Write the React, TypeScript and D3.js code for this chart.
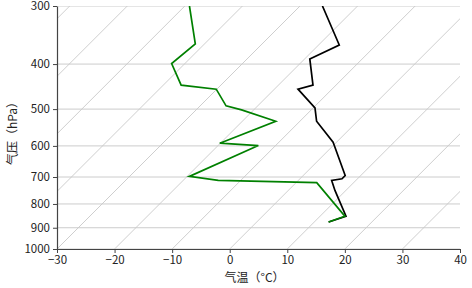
import React, { useEffect, useRef } from 'react';
import * as d3 from 'd3';

// sounding (hPa, °C)
const tempPressure = [875, 850, 748, 712, 706, 695, 599, 589, 531, 497, 453, 444, 390, 364, 300];
const temperature = [12.5, 14.5, 8.1, 5.8, 7.3, 7.3, 0.2, -0.6, -7.1, -9.7, -15.9, -14.0, -19.1, -16.4, -26.1];
const dewPressure = [875, 850, 720, 712, 698, 599, 592, 531, 502, 492, 453, 444, 399, 362, 300];
const dewpoint = [12.5, 14.3, 3.6, -13.9, -19.6, -13.0, -20.1, -14.2, -22.1, -25.5, -30.1, -36.9, -42.3, -41.6, -49.2];

const pressureTicks = [1000, 900, 800, 700, 600, 500, 400, 300];
const tempTicks = [-30, -20, -10, 0, 10, 20, 30, 40];
const isotherms = d3.range(-120, 50, 10);

const FONT = '"Noto Sans CJK SC", "Noto Sans", sans-serif';

export default function App() {
  const svgRef = useRef<SVGSVGElement>(null);

  useEffect(() => {
    const width = 472;
    const height = 288;
    const margin = { top: 6, right: 12, bottom: 39, left: 57 };
    const plotW = width - margin.left - margin.right;
    const plotH = height - margin.top - margin.bottom;

    const svg = d3.select(svgRef.current);
    svg.selectAll('*').remove();
    svg.attr('width', width).attr('height', height);

    const x = d3.scaleLinear().domain([-30, 40]).range([0, plotW]);
    const y = d3.scaleLog().domain([1000, 300]).range([plotH, 0]);
    // 45 degree skew: one pixel right for every pixel up
    const skewX = (t: number, p: number) => x(t) + (plotH - y(p));

    svg.append('defs').append('clipPath').attr('id', 'plot-clip')
      .append('rect').attr('width', plotW).attr('height', plotH);

    const g = svg.append('g').attr('transform', `translate(${margin.left},${margin.top})`);
    const plot = g.append('g').attr('clip-path', 'url(#plot-clip)');

    // isobars
    plot.selectAll('line.isobar')
      .data(pressureTicks)
      .enter()
      .append('line')
      .attr('x1', 0).attr('x2', plotW)
      .attr('y1', d => y(d)).attr('y2', d => y(d))
      .attr('stroke', '#cccccc')
      .attr('stroke-width', 1);

    // isotherms
    plot.selectAll('line.isotherm')
      .data(isotherms)
      .enter()
      .append('line')
      .attr('x1', d => x(d)).attr('y1', plotH)
      .attr('x2', d => x(d) + plotH).attr('y2', 0)
      .attr('stroke', '#c8c8c8')
      .attr('stroke-width', 0.9);

    const tLine = d3.line<number>()
      .x((d, i) => skewX(d, tempPressure[i]))
      .y((d, i) => y(tempPressure[i]));
    const dLine = d3.line<number>()
      .x((d, i) => skewX(d, dewPressure[i]))
      .y((d, i) => y(dewPressure[i]));

    plot.append('path')
      .attr('d', tLine(temperature))
      .attr('fill', 'none')
      .attr('stroke', '#000')
      .attr('stroke-width', 1.7);

    plot.append('path')
      .attr('d', dLine(dewpoint))
      .attr('fill', 'none')
      .attr('stroke', '#008000')
      .attr('stroke-width', 1.7);

    // axes
    const xAxis = g.append('g')
      .attr('transform', `translate(0,${plotH})`)
      .call(d3.axisBottom(x).tickValues(tempTicks).tickSize(4).tickSizeOuter(0).tickPadding(3));
    const yAxis = g.append('g')
      .call(d3.axisLeft(y).tickValues(pressureTicks).tickFormat(d3.format('d')).tickSize(4).tickSizeOuter(0).tickPadding(3));

    [xAxis, yAxis].forEach(a => {
      a.select('.domain').attr('stroke', '#444').attr('stroke-width', 1.2);
      a.selectAll('.tick line').attr('stroke', '#444');
      a.selectAll('.tick text').attr('fill', '#222').style('font-family', FONT).style('font-size', '11.5px');
    });

    svg.append('text')
      .attr('x', margin.left + plotW / 2 - 4)
      .attr('y', 282)
      .attr('text-anchor', 'middle')
      .style('font-family', FONT)
      .style('font-size', '12px')
      .attr('fill', '#222')
      .text('气温（°C）');

    svg.append('text')
      .attr('transform', `translate(17,${margin.top + plotH / 2 + 3}) rotate(-90)`)
      .attr('text-anchor', 'middle')
      .style('font-family', FONT)
      .style('font-size', '12px')
      .attr('fill', '#222')
      .text('气压（hPa）');
  }, []);

  return (
    <svg ref={svgRef} style={{ position: 'absolute', left: 0, top: 0, display: 'block' }}></svg>
  );
}
